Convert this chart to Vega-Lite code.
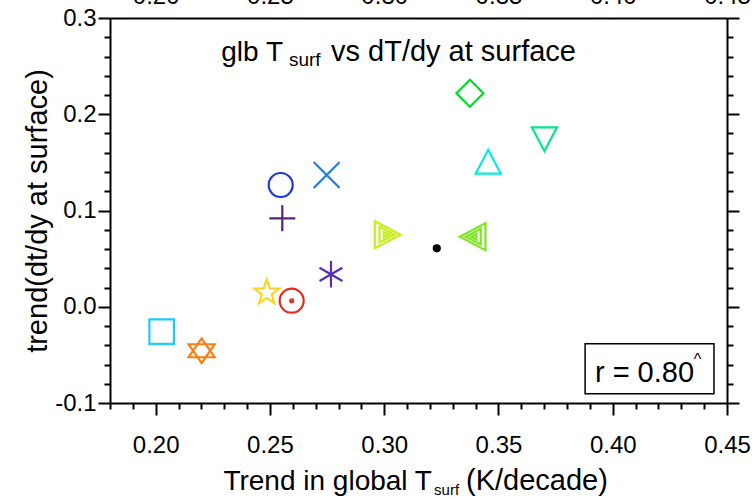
{
  "$schema": "https://vega.github.io/schema/vega-lite/v6.json",
  "width": 617,
  "height": 385,
  "autosize": "none",
  "padding": {"left": 110, "top": 18, "right": 25, "bottom": 96},
  "background": "white",
  "config": {
    "view": {"stroke": null},
    "font": "Liberation Sans",
    "axis": {"grid": false, "tickColor": "black", "domainColor": "black", "labelColor": "black", "titleColor": "black", "labelFont": "Liberation Sans", "titleFont": "Liberation Sans", "tickWidth": 2, "domainWidth": 2}
  },
  "datasets": {
    "pts": [
      {"model": "m01", "x": 0.2026, "y": -0.0259},
      {"model": "m02", "x": 0.2201, "y": -0.0457},
      {"model": "m03", "x": 0.2486, "y": 0.0146},
      {"model": "m04", "x": 0.2595, "y": 0.0063},
      {"model": "m05", "x": 0.2767, "y": 0.0337},
      {"model": "m06", "x": 0.2547, "y": 0.1265},
      {"model": "m07", "x": 0.2554, "y": 0.0919},
      {"model": "m08", "x": 0.2748, "y": 0.1369},
      {"model": "m09", "x": 0.3375, "y": 0.2218},
      {"model": "m10", "x": 0.3455, "y": 0.1507},
      {"model": "m11", "x": 0.3701, "y": 0.174},
      {"model": "m12", "x": 0.3015, "y": 0.0749},
      {"model": "m13", "x": 0.3387, "y": 0.0728},
      {"model": "m14", "x": 0.323, "y": 0.0607}
    ],
    "annot": [
      {"part": "pre", "text": "glb T", "x": 0.2557, "y": 0.2553},
      {"part": "sub", "text": "surf", "x": 0.2583, "y": 0.2501},
      {"part": "post", "text": "vs dT/dy at surface", "x": 0.2767, "y": 0.2553},
      {"part": "pre", "text": "Trend in global T", "x": 0.3209, "y": -0.1904},
      {"part": "xsub", "text": "surf", "x": 0.3218, "y": -0.1956},
      {"part": "post", "text": "(K/decade)", "x": 0.3358, "y": -0.1904},
      {"part": "r", "text": "r = 0.80", "x": 0.3922, "y": -0.0782},
      {"part": "caret", "text": "^", "x": 0.4355, "y": -0.0605}
    ],
    "box": [
      {"x": 0.3879, "x2": 0.4443, "y": -0.0384, "y2": -0.0904}
    ]
  },
  "resolve": {"axis": {"x": "independent", "y": "independent"}},
  "layer": [
    {
      "data": {"name": "pts"},
      "mark": {"type": "point", "filled": false, "strokeWidth": 2.2, "opacity": 1},
      "encoding": {
        "x": {"field": "x", "type": "quantitative", "scale": {"domain": [0.18, 0.45], "nice": false, "zero": false},
          "axis": {"orient": "bottom", "values": [0.2, 0.25, 0.3, 0.35, 0.4, 0.45], "format": ".2f", "tickSize": 12, "domain": true, "labelFontSize": 24, "labelPadding": 18, "labelFlush": false, "labelOverlap": false, "title": null}},
        "y": {"field": "y", "type": "quantitative", "scale": {"domain": [-0.1, 0.3], "nice": false, "zero": false},
          "axis": {"orient": "left", "values": [-0.1, 0, 0.1, 0.2, 0.3], "labelExpr": "datum.value < 0 ? '-' + format(-datum.value, '.1f') : format(datum.value, '.1f')", "tickSize": 12, "domain": true, "labelFontSize": 24, "labelPadding": 2, "labelFlush": false, "labelOverlap": false, "title": "trend(dt/dy at surface)", "titleFontSize": 29, "titleFontWeight": "normal", "titlePadding": 2}},
        "shape": {"field": "model", "type": "nominal", "legend": null, "scale": {
          "domain": ["m01","m02","m03","m04","m05","m06","m07","m08","m09","m10","m11","m12","m13","m14"],
          "range": [
            "square",
            "M0,-0.95L1,0.5L-1,0.5ZM0,0.95L1,-0.5L-1,-0.5Z",
            "M0,-1L0.235,-0.324L0.951,-0.309L0.38,0.124L0.588,0.809L0,0.4L-0.588,0.809L-0.38,0.124L-0.951,-0.309L-0.235,-0.324Z",
            "M1,0A1,1,0,1,1,-1,0A1,1,0,1,1,1,0ZM0.12,0A0.12,0.12,0,1,1,-0.12,0A0.12,0.12,0,1,1,0.12,0Z",
            "M0,-1L0,1M-0.866,-0.5L0.866,0.5M-0.866,0.5L0.866,-0.5",
            "circle",
            "M-1,0L1,0M0,-1L0,1",
            "M-1,-1L1,1M-1,1L1,-1",
            "diamond",
            "M0,-0.95L1,0.95L-1,0.95Z",
            "M0,0.95L1,-0.95L-1,-0.95Z",
            "M0.95,0L-0.95,-1L-0.95,1ZM0.5,0L-0.6,-0.58L-0.6,0.58ZM0.1,0L-0.28,-0.2L-0.28,0.2Z",
            "M-0.95,0L0.95,-1L0.95,1ZM-0.5,0L0.6,-0.58L0.6,0.58ZM-0.1,0L0.28,-0.2L0.28,0.2Z",
            "circle"
          ]}},
        "color": {"field": "model", "type": "nominal", "legend": null, "scale": {
          "domain": ["m01","m02","m03","m04","m05","m06","m07","m08","m09","m10","m11","m12","m13","m14"],
          "range": ["#1ECBF2","#F98010","#FBD520","#E62A1E","#5A2DB8","#1E37DC","#552477","#1E7DE8","#00DC2A","#00EDE0","#00E68C","#C6F01A","#7EE622","#000000"]}},
        "fill": {"field": "model", "type": "nominal", "legend": null, "scale": {
          "domain": ["m01","m02","m03","m04","m05","m06","m07","m08","m09","m10","m11","m12","m13","m14"],
          "range": ["transparent","transparent","transparent","transparent","transparent","transparent","transparent","transparent","transparent","transparent","transparent","transparent","transparent","#000000"]}},
        "size": {"field": "model", "type": "nominal", "legend": null, "scale": {
          "type": "ordinal",
          "domain": ["m01","m02","m03","m04","m05","m06","m07","m08","m09","m10","m11","m12","m13","m14"],
          "range": [600, 676, 690, 576, 700, 576, 676, 676, 729, 625, 625, 729, 729, 36]}}
      }
    },
    {
      "data": {"name": "box"},
      "mark": {"type": "rect", "fill": "white", "stroke": "black", "strokeWidth": 1.5},
      "encoding": {
        "x": {"field": "x", "type": "quantitative", "scale": {"domain": [0.18, 0.45], "nice": false, "zero": false},
          "axis": {"orient": "bottom", "values": [0.18,0.19,0.21,0.22,0.23,0.24,0.26,0.27,0.28,0.29,0.31,0.32,0.33,0.34,0.36,0.37,0.38,0.39,0.41,0.42,0.43,0.44], "tickSize": 6, "labels": false, "domain": false, "title": null}},
        "x2": {"field": "x2"},
        "y": {"field": "y", "type": "quantitative", "scale": {"domain": [-0.1, 0.3], "nice": false, "zero": false},
          "axis": {"orient": "left", "values": [-0.08,-0.06,-0.04,-0.02,0.02,0.04,0.06,0.08,0.12,0.14,0.16,0.18,0.22,0.24,0.26,0.28], "tickSize": 6, "labels": false, "domain": false, "title": null}},
        "y2": {"field": "y2"}
      }
    },
    {
      "data": {"name": "annot"},
      "transform": [{"filter": "datum.part === 'pre'"}],
      "mark": {"type": "text", "align": "right", "baseline": "alphabetic", "fontSize": 28, "font": "Liberation Sans", "color": "black"},
      "encoding": {
        "x": {"field": "x", "type": "quantitative", "scale": {"domain": [0.18, 0.45], "nice": false, "zero": false},
          "axis": {"orient": "top", "values": [0.2, 0.25, 0.3, 0.35, 0.4, 0.45], "format": ".2f", "tickSize": 0, "domain": true, "labelFontSize": 24, "labelPadding": 10, "labelFlush": false, "labelOverlap": false, "title": null}},
        "y": {"field": "y", "type": "quantitative", "scale": {"domain": [-0.1, 0.3], "nice": false, "zero": false},
          "axis": {"orient": "right", "values": [-0.1, 0, 0.1, 0.2, 0.3], "tickSize": 12, "labels": false, "domain": true, "title": null}},
        "text": {"field": "text"}
      }
    },
    {
      "data": {"name": "annot"},
      "transform": [{"filter": "datum.part === 'sub'"}],
      "mark": {"type": "text", "align": "left", "baseline": "alphabetic", "fontSize": 19, "font": "Liberation Sans", "color": "black"},
      "encoding": {
        "x": {"field": "x", "type": "quantitative", "scale": {"domain": [0.18, 0.45], "nice": false, "zero": false}, "axis": null},
        "y": {"field": "y", "type": "quantitative", "scale": {"domain": [-0.1, 0.3], "nice": false, "zero": false},
          "axis": {"orient": "right", "values": [-0.08,-0.06,-0.04,-0.02,0.02,0.04,0.06,0.08,0.12,0.14,0.16,0.18,0.22,0.24,0.26,0.28], "tickSize": 6, "labels": false, "domain": false, "title": null}},
        "text": {"field": "text"}
      }
    },
    {
      "data": {"name": "annot"},
      "transform": [{"filter": "datum.part === 'xsub'"}],
      "mark": {"type": "text", "align": "left", "baseline": "alphabetic", "fontSize": 15, "font": "Liberation Sans", "color": "black"},
      "encoding": {
        "x": {"field": "x", "type": "quantitative", "scale": {"domain": [0.18, 0.45], "nice": false, "zero": false}, "axis": null},
        "y": {"field": "y", "type": "quantitative", "scale": {"domain": [-0.1, 0.3], "nice": false, "zero": false}, "axis": null},
        "text": {"field": "text"}
      }
    },
    {
      "data": {"name": "annot"},
      "transform": [{"filter": "datum.part === 'post' || datum.part === 'r'"}],
      "mark": {"type": "text", "align": "left", "baseline": "alphabetic", "fontSize": 29, "font": "Liberation Sans", "color": "black"},
      "encoding": {
        "x": {"field": "x", "type": "quantitative", "scale": {"domain": [0.18, 0.45], "nice": false, "zero": false}, "axis": null},
        "y": {"field": "y", "type": "quantitative", "scale": {"domain": [-0.1, 0.3], "nice": false, "zero": false}, "axis": null},
        "text": {"field": "text"}
      }
    },
    {
      "data": {"name": "annot"},
      "transform": [{"filter": "datum.part === 'caret'"}],
      "mark": {"type": "text", "align": "left", "baseline": "alphabetic", "fontSize": 16, "font": "Liberation Sans", "color": "black"},
      "encoding": {
        "x": {"field": "x", "type": "quantitative", "scale": {"domain": [0.18, 0.45], "nice": false, "zero": false}, "axis": null},
        "y": {"field": "y", "type": "quantitative", "scale": {"domain": [-0.1, 0.3], "nice": false, "zero": false}, "axis": null},
        "text": {"field": "text"}
      }
    }
  ]
}
